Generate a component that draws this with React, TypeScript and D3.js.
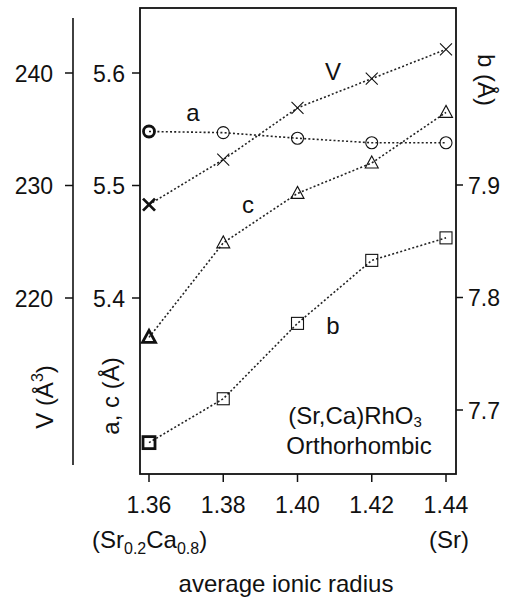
import React from "react";
import * as d3 from "d3";

const radius = [1.36, 1.38, 1.4, 1.42, 1.44];
const seriesV = [228.3, 232.3, 236.9, 239.5, 242.1];
const seriesA = [5.548, 5.547, 5.542, 5.538, 5.538];
const seriesC = [5.365, 5.449, 5.493, 5.52, 5.565];
const seriesB = [7.671, 7.71, 7.777, 7.833, 7.853];
const xTicks = [1.36, 1.38, 1.4, 1.42, 1.44];
const acTicks = [5.4, 5.5, 5.6];
const vTicks = [220, 230, 240];
const bTicks = [7.7, 7.8, 7.9];

const FONT = "'Liberation Sans', Arial, Helvetica, sans-serif";

export default function App() {
  const L = 140, R = 456, T = 8, B = 474;
  const x = d3.scaleLinear().domain([1.36, 1.44]).range([149, 446]);
  const yAC = d3.scaleLinear().domain([5.4, 5.6]).range([298, 73]);
  const yV = d3.scaleLinear().domain([220, 240]).range([298, 73]);
  const yB = d3.scaleLinear().domain([7.7, 7.9]).range([410, 185]);

  const line = (vals: number[], y: d3.ScaleLinear<number, number>) =>
    d3.line<number>().x((_, i) => x(radius[i])).y((d) => y(d))(vals) || "";

  const dotted = { fill: "none", stroke: "#222", strokeWidth: 1.6, strokeDasharray: "2,2.2" };
  const sw = (i: number) => (i === 0 ? 2.8 : 1.1);
  const s = 6;
  const TF = 23;
  const LF = 24;

  const cross = (cx: number, cy: number, i: number) => (
    <path key={"v" + i} d={`M${cx - s},${cy - s}L${cx + s},${cy + s}M${cx - s},${cy + s}L${cx + s},${cy - s}`}
      stroke="#111" strokeWidth={sw(i)} fill="none" />
  );
  const circle = (cx: number, cy: number, i: number) => (
    <circle key={"a" + i} cx={cx} cy={cy} r={i === 0 ? 5.5 : 6} stroke="#111" strokeWidth={sw(i)} fill="none" />
  );
  const tri = (cx: number, cy: number, i: number) => (
    <path key={"c" + i} d={`M${cx},${cy - 7}L${cx + 6.5},${cy + 5}L${cx - 6.5},${cy + 5}Z`}
      stroke="#111" strokeWidth={sw(i)} fill="none" strokeLinejoin="miter" />
  );
  const sq = (cx: number, cy: number, i: number) => (
    <rect key={"b" + i} x={cx - 6} y={cy - 6} width={12} height={12} stroke="#111" strokeWidth={sw(i)} fill="none" />
  );

  return (
    <svg width={508} height={598} style={{ position: "absolute", left: 0, top: 0, background: "#fff" }}
      fontFamily={FONT} fill="#111">
      {/* frame */}
      <rect x={L} y={T} width={R - L} height={B - T} fill="none" stroke="#111" strokeWidth={1.8} />
      {/* V axis line */}
      <line x1={73} x2={73} y1={18} y2={465} stroke="#111" strokeWidth={1.6} />

      {/* x ticks */}
      {xTicks.map((t) => (
        <g key={t}>
          <line x1={x(t)} x2={x(t)} y1={B} y2={B + 8} stroke="#111" strokeWidth={1.5} />
          <text x={x(t)} y={513} fontSize={TF} textAnchor="middle">{t.toFixed(2)}</text>
        </g>
      ))}
      {/* a,c ticks */}
      {acTicks.map((t) => (
        <g key={t}>
          <line x1={L - 8} x2={L} y1={yAC(t)} y2={yAC(t)} stroke="#111" strokeWidth={1.5} />
          <text x={125} y={yAC(t) + 8.5} fontSize={TF} textAnchor="end">{t.toFixed(1)}</text>
        </g>
      ))}
      {/* V ticks */}
      {vTicks.map((t) => (
        <g key={t}>
          <line x1={65} x2={73} y1={yV(t)} y2={yV(t)} stroke="#111" strokeWidth={1.5} />
          <text x={53} y={yV(t) + 8.5} fontSize={TF} textAnchor="end">{t}</text>
        </g>
      ))}
      {/* b ticks */}
      {bTicks.map((t) => (
        <g key={t}>
          <line x1={R} x2={R + 7} y1={yB(t)} y2={yB(t)} stroke="#111" strokeWidth={1.5} />
          <text x={468} y={yB(t) + 8.5} fontSize={TF} textAnchor="start">{t.toFixed(1)}</text>
        </g>
      ))}

      {/* lines */}
      <path d={line(seriesV, yV)} {...dotted} />
      <path d={line(seriesA, yAC)} {...dotted} />
      <path d={line(seriesC, yAC)} {...dotted} />
      <path d={line(seriesB, yB)} {...dotted} />

      {/* markers */}
      {seriesV.map((v, i) => cross(x(radius[i]), yV(v), i))}
      {seriesA.map((v, i) => circle(x(radius[i]), yAC(v), i))}
      {seriesC.map((v, i) => tri(x(radius[i]), yAC(v), i))}
      {seriesB.map((v, i) => sq(x(radius[i]), yB(v), i))}

      {/* series labels */}
      <text x={193} y={121} fontSize={LF} textAnchor="middle">a</text>
      <text x={333} y={80} fontSize={LF} textAnchor="middle">V</text>
      <text x={248} y={213} fontSize={LF} textAnchor="middle">c</text>
      <text x={333} y={334} fontSize={LF} textAnchor="middle">b</text>

      {/* annotation */}
      <text x={355} y={424} fontSize={LF} textAnchor="middle">
        (Sr,Ca)RhO<tspan fontSize={15} dy={3}>3</tspan>
      </text>
      <text x={359} y={454} fontSize={LF} textAnchor="middle">Orthorhombic</text>

      {/* axis titles */}
      <text transform="translate(53,397) rotate(-90)" fontSize={LF} textAnchor="middle">
        V (Å<tspan fontSize={16} dy={-10}>3</tspan><tspan dy={10}>)</tspan>
      </text>
      <text transform="translate(119,396) rotate(-90)" fontSize={LF} textAnchor="middle">a, c (Å)</text>
      <text transform="translate(478,80) rotate(90)" fontSize={LF} textAnchor="middle">b (Å)</text>

      <text x={92} y={548} fontSize={LF}>
        (Sr<tspan fontSize={16} dy={6}>0.2</tspan><tspan dy={-6}>Ca</tspan><tspan fontSize={16} dy={6}>0.8</tspan><tspan dy={-6}>)</tspan>
      </text>
      <text x={449} y={548} fontSize={LF} textAnchor="middle">(Sr)</text>
      <text x={286} y={592} fontSize={LF} textAnchor="middle">average ionic radius</text>
    </svg>
  );
}
